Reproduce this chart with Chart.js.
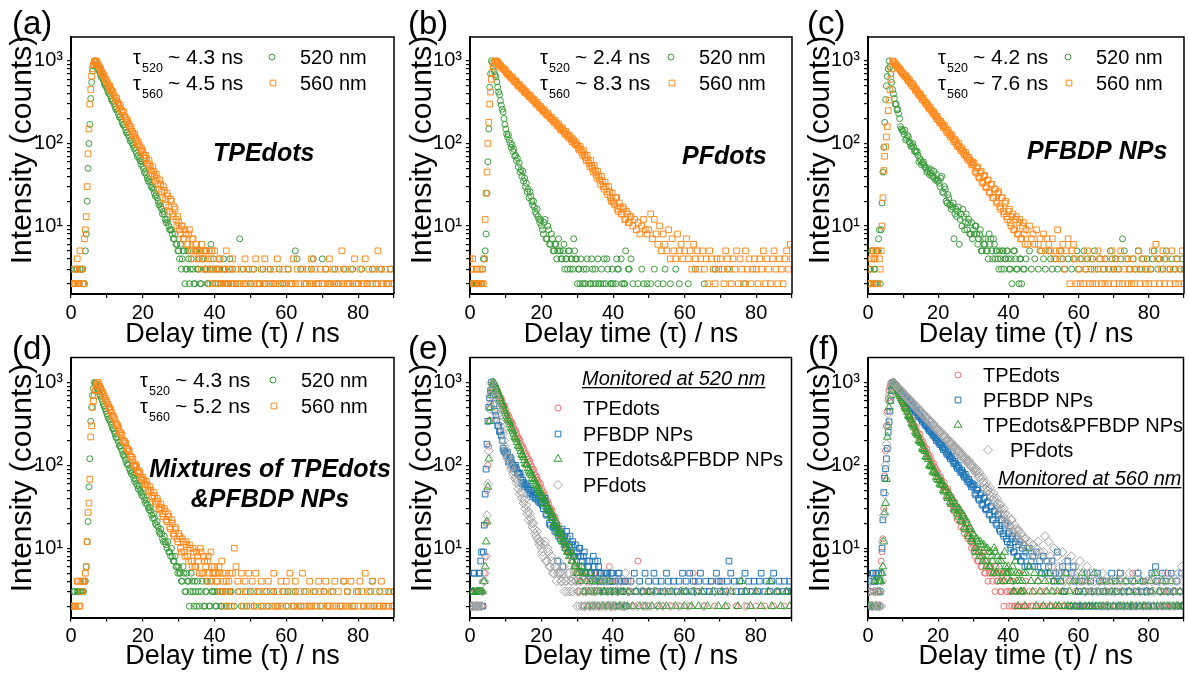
<!DOCTYPE html>
<html><head><meta charset="utf-8">
<script src="https://cdn.jsdelivr.net/npm/chart.js@4.4.1/dist/chart.umd.min.js"></script>
<style>
html,body{margin:0;padding:0;background:#fff;}
body{width:1189px;height:673px;position:relative;overflow:hidden;}
canvas{position:absolute;}
</style></head><body>
<canvas id="pa"></canvas><canvas id="pb"></canvas><canvas id="pc"></canvas>
<canvas id="pd"></canvas><canvas id="pe"></canvas><canvas id="pf"></canvas>
<script>
// ---------- data: counts per channel (0 = no counts) ----------
// main channels at t = 0, 0.5, ... 90 ns; half channels at t = 0.25, 0.75, ... 44.75 ns
const TIME_STEP_NS = 0.5;
const HALF_OFFSET_NS = 0.25;
const X_TICKS = [0,10,20,30,40,50,60,70,80,90];
const X_LABELLED = [0,20,40,60,80];
const Y_TICKS = [2,3,4,5,6,7,8,9,10,20,30,40,50,60,70,80,90,100,200,300,400,500,600,700,800,900,1000];
const Y_LABELS = {10:'10\u00b9',100:'10\u00b2',1000:'10\u00b3'};

// TPEdots, 520 nm
const tpe520 = [
0,0,3,3,0,3,3,2,5,20,100,350,750,1000,900,790,730,630,590,505,
470,405,380,325,305,260,245,208,197,168,158,134,127,107,102,87,82,69,66,56,
53,44,42,35,34,29,28,23,22,18,17,14,14,11,11,9,9,7,8,6,
5,6,4,5,3,5,2,4,3,2,5,3,2,4,0,3,2,0,6,2,
0,3,2,0,0,4,3,2,0,0,3,0,2,0,7,0,3,2,0,3,
2,0,3,0,0,2,0,3,2,0,0,3,0,2,0,0,3,0,2,0,
0,3,0,2,0,5,4,0,3,0,0,2,0,0,3,4,0,2,0,0,
4,0,3,0,2,0,0,3,0,2,0,0,3,0,0,2,0,3,0,0,
2,0,3,0,0,2,0,0,3,0,2,0,0,3,0,0,2,0,3,0,
0];
const tpe520Half = [
0,2,0,3,2,0,3,2,8,50,170,550,880,960,820,790,680,650,540,520,
430,400,345,330,280,265,225,212,180,170,146,138,118,112,96,90,76,72,62,60,
49,46,38,37,31,30,25,24,20,19,16,15,12,12,10,9,8,7,6,5,
4,3,5,2,3,4,3,0,2,5,3,4,2,0,3,5,2,3,0,4,
2,0,3,2,0,3,0,2,4,0];
// TPEdots, 560 nm
const tpe560 = [
0,2,2,3,2,5,3,2,9,30,150,450,800,980,1000,900,830,730,680,600,
560,490,460,400,380,330,310,270,255,220,210,180,172,148,140,122,116,99,96,82,
80,66,66,53,55,43,46,35,38,28,32,22,27,18,23,15,20,13,16,10,
11,8,10,7,8,6,9,5,7,5,6,4,5,6,4,5,3,5,4,3,
5,3,2,4,2,3,2,0,3,2,4,2,3,2,2,3,2,4,2,3,
2,3,2,4,2,2,3,2,4,2,3,2,2,3,2,4,2,2,3,2,
2,3,2,2,4,2,3,2,0,3,2,2,3,2,4,2,3,2,2,3,
2,2,3,2,4,2,3,2,2,3,2,5,2,3,2,2,3,2,4,2,
2,3,2,2,4,2,3,2,2,3,2,5,3,2,2,3,2,2,3,2,
2];
const tpe560Half = [
2,3,2,4,2,3,2,7,13,75,300,650,900,1000,960,870,800,720,650,590,
530,500,440,420,360,350,300,290,245,240,200,190,165,158,132,130,108,105,90,86,
72,72,58,62,48,52,40,42,32,36,26,30,21,25,17,21,14,17,12,13,
9,10,7,9,6,8,5,7,4,6,5,5,3,4,5,3,4,2,5,3,
2,3,4,2,3,2,5,2,3,2];
// PFdots, 520 nm
const pf520 = [
0,2,2,2,2,2,2,3,4,8,60,480,1000,850,680,560,420,330,260,200,
150,120,110,90,80,70,62,52,45,40,35,30,26,22,23,18,17,14,13,11,
10,8,12,7,9,6,7,5,6,5,5,4,5,3,4,5,3,4,7,4,
2,3,4,2,2,3,0,2,4,2,3,0,2,2,0,4,2,3,0,2,
2,0,4,3,0,2,2,5,0,3,4,2,0,0,2,0,3,2,0,2,
0,2,0,3,0,2,0,0,2,3,0,0,2,0,0,3,0,2,0,0,
0,0,2,0,0,0,3,0,0,0,0,2,0,0,0,0,0,3,0,0,
0,0,0,0,3,0,0,0,0,0,0,0,0,0,2,0,0,0,0,0,
0,0,0,0,0,0,0,0,0,0,0,0,0,0,0,0,0,0,0,0,
0];
const pf520Half = [
2,2,0,2,2,0,2,4,5,25,150,700,950,760,640,480,390,290,240,170,
130,128,100,96,85,72,66,58,48,46,38,33,28,26,20,20,15,16,12,12,
9,11,7,10,6,8,5,6,4,7,5,4,6,4,3,5,4,3,5,4,
3,2,0,3,2,4,0,2,3,0,2,4,0,3,2,0,4,0,2,3,
0,2,3,0,4,0,2,0,3,0];
// PFdots, 560 nm
const pf560 = [
4,3,2,2,3,2,2,3,4,25,100,300,600,850,1000,980,930,880,820,800,
740,690,670,620,610,560,550,500,490,455,445,410,400,370,365,335,330,300,295,270,
265,245,240,220,218,200,196,180,178,162,160,145,145,130,130,118,118,105,108,96,
95,84,85,72,73,62,63,52,54,45,47,38,40,32,35,28,30,24,26,20,
20,18,22,15,17,14,16,12,14,11,13,10,12,9,11,8,10,12,9,8,
9,14,7,12,8,6,10,5,8,6,5,9,4,7,5,4,8,5,6,4,
5,7,4,5,3,6,4,5,3,4,5,3,4,2,5,4,3,2,4,3,
4,3,2,5,4,3,2,4,3,5,2,4,3,2,5,3,4,2,3,4,
3,2,4,3,5,2,4,3,2,4,5,3,2,4,3,2,4,5,3,6,
4];
const pf560Half = [
3,4,2,3,2,3,2,2,12,45,180,420,720,930,1000,960,900,850,800,780,
720,700,640,640,580,575,520,520,470,470,420,425,385,385,350,345,315,315,285,280,
255,255,230,232,210,208,188,190,170,172,152,155,138,140,124,126,112,114,100,102,
88,92,78,82,68,72,58,62,50,54,42,46,36,40,30,34,26,30,22,25,
19,22,16,19,14,17,12,15,11,13];
// PFBDP NPs, 520 nm
const pfbdp520 = [
2,3,5,2,3,5,7,2,19,90,340,650,1000,700,450,350,300,260,200,150,
140,145,115,120,100,95,90,82,80,60,62,58,55,50,47,42,48,40,38,42,
36,30,40,25,28,19,22,18,17,7,16,15,6,14,16,9,14,11,8,11,
9,10,8,7,9,5,6,7,5,8,7,4,6,5,4,5,3,5,4,5,
4,3,2,5,4,3,2,4,0,3,4,0,5,3,0,4,0,3,5,0,
4,3,0,5,4,3,0,4,3,0,5,4,3,0,4,0,3,4,0,5,
3,4,0,5,3,4,0,3,4,5,0,3,4,0,3,4,0,3,5,4,
3,4,0,3,4,7,5,0,4,3,0,4,3,0,5,3,4,0,3,4,
0,3,4,5,0,3,4,0,3,4,5,0,3,4,0,3,4,0,3,4,
3];
const pfbdp520Half = [
3,2,5,3,2,5,9,9,45,180,500,800,850,550,400,300,255,230,160,145,
130,110,125,105,92,100,80,78,72,66,55,60,52,45,50,44,40,46,36,35,
33,38,26,30,20,24,18,16,19,14,13,17,12,10,13,11,9,12,8,7,
8,10,6,8,5,7,6,5,4,6,5,7,4,5,3,4,5,3,4,5,
3,4,0,5,3,0,4,2,3,0];
// PFBDP NPs, 560 nm
const pfbdp560 = [
2,2,4,5,4,2,5,3,10,47,91,160,335,600,1000,950,900,840,800,740,
700,650,630,570,550,500,490,440,430,385,380,340,330,300,290,262,255,230,225,200,
195,178,175,155,155,136,135,120,120,105,106,92,93,82,82,72,72,63,63,55,
56,46,50,40,44,34,40,30,36,26,32,22,28,20,25,17,22,15,19,13,
15,11,13,9,12,8,11,7,10,8,9,6,10,7,8,6,9,6,7,5,
8,5,7,6,5,7,4,5,9,5,4,6,3,5,7,2,5,6,4,2,
3,2,4,2,3,5,2,4,2,3,2,5,4,2,3,2,4,2,3,5,
2,4,3,2,5,2,3,4,2,3,2,4,2,3,5,2,3,4,2,3,
2,3,5,2,6,4,2,3,5,2,4,3,2,5,3,2,4,2,3,5,
2];
const pfbdp560Half = [
2,3,5,4,5,2,4,5,22,70,120,250,450,800,980,920,870,820,770,720,
680,660,600,600,530,530,470,460,410,400,360,355,315,310,275,275,245,240,215,212,
188,185,165,165,145,145,128,128,112,112,98,100,86,88,76,78,67,68,59,60,
58,44,52,38,46,33,41,29,36,25,32,22,28,19,26,16,22,14,20,12,
16,10,14,9,13,8,12,7,11,6];
// Mixture TPEdots & PFBDP NPs, 520 nm
const mix520 = [
0,0,3,0,3,3,3,3,4,12,55,340,700,1000,950,830,725,640,550,480,
420,365,335,285,260,220,205,172,160,135,125,105,102,86,84,70,68,57,56,47,
46,38,38,31,31,25,26,20,21,16,17,13,14,11,12,9,10,7,8,6,
6,5,4,5,3,4,2,5,3,4,2,3,0,4,2,3,4,2,4,3,
3,2,0,3,2,0,3,0,2,3,0,2,0,3,0,2,0,3,2,0,
3,0,2,0,3,0,2,0,0,3,2,0,0,3,0,2,0,0,3,0,
2,3,0,0,2,3,0,0,2,0,3,0,0,2,0,0,3,0,0,2,
0,3,0,2,0,0,3,0,0,0,2,0,4,0,3,0,0,2,0,0,
3,0,0,2,0,0,0,3,4,2,0,0,3,0,2,0,0,3,0,2,
3];
const mix520Half = [
0,3,0,3,0,3,3,4,6,21,120,500,850,980,880,780,690,590,520,450,
390,350,310,275,240,215,190,170,148,132,115,102,92,80,76,64,60,52,50,43,
42,35,34,29,28,23,23,19,18,15,15,12,12,10,9,8,8,7,6,5,
5,4,6,3,5,4,3,4,2,3,4,2,3,0,2,3,0,2,3,0,
2,3,0,2,3,0,2,0,3,0];
// Mixture TPEdots & PFBDP NPs, 560 nm
const mix560 = [
2,2,2,0,4,2,3,4,5,12,35,220,500,700,900,1000,900,800,720,645,
580,510,470,400,375,320,300,255,240,200,192,160,155,128,125,100,102,84,86,72,
72,60,64,50,55,42,47,36,40,30,34,26,30,22,26,18,22,15,18,13,
15,10,13,9,12,8,11,7,10,6,9,7,10,5,8,6,7,5,9,5,
6,4,5,3,7,4,5,3,4,3,5,10,6,4,3,5,2,4,3,5,
2,4,3,5,2,3,4,2,3,2,4,3,2,5,2,3,2,4,2,3,
4,2,5,3,2,4,2,3,2,5,2,3,2,4,2,3,2,2,4,3,
2,3,4,2,2,3,2,4,2,3,2,2,4,2,3,2,4,2,2,3,
2,4,3,2,5,2,3,2,4,2,3,2,2,4,2,3,2,2,3,2,
2];
const mix560Half = [
2,0,2,4,2,4,4,4,6,27,68,300,600,800,960,950,850,760,680,610,
545,490,440,390,355,310,285,245,230,195,185,155,148,125,118,98,96,82,80,68,
66,58,58,48,50,40,43,34,37,29,31,24,28,21,24,17,20,14,17,12,
14,9,12,8,11,7,10,6,9,6,8,5,9,5,7,4,8,4,6,5,
5,4,6,3,5,2,4,3,5,2];

// ---------- styling ----------
const FONT = "'Liberation Sans', Arial, Helvetica, sans-serif";
Chart.defaults.font.family = FONT;
const COL = {g520:'#3a9b3a', o560:'#ff8a1e', red:'#f07474', blue:'#2277b8', green:'#2f9e2f', gray:'#a3a3a3'};
const RAD = {circle:3, rect:4, triangle:4.5, rectRot:4.5};

function toPoints(main, half){
  const pts = [];
  main.forEach((c,i)=>{ if (c > 0) pts.push({x: i*TIME_STEP_NS, y: c}); });
  half.forEach((c,i)=>{ if (c > 0) pts.push({x: HALF_OFFSET_NS + i*TIME_STEP_NS, y: c}); });
  return pts;
}

function drawMarker(ctx, shape, x, y, color){
  const r = RAD[shape];
  ctx.save(); ctx.strokeStyle = color; ctx.lineWidth = 1; ctx.beginPath();
  if (shape === 'circle') ctx.arc(x, y, r, 0, Math.PI*2);
  else if (shape === 'rect') { const s = r*Math.SQRT1_2; ctx.rect(x-s, y-s, 2*s, 2*s); }
  else if (shape === 'triangle') { ctx.moveTo(x, y-r); ctx.lineTo(x+r*0.866, y+r*0.5); ctx.lineTo(x-r*0.866, y+r*0.5); ctx.closePath(); }
  else { ctx.moveTo(x, y-r); ctx.lineTo(x+r, y); ctx.lineTo(x, y+r); ctx.lineTo(x-r, y); ctx.closePath(); }
  ctx.stroke(); ctx.restore();
}

const decoPlugin = {
  id: 'deco',
  afterDraw(chart, args, o) {
    const p = o.panel; if (!p) return;
    const ctx = chart.ctx, a = chart.chartArea;
    ctx.save();
    ctx.strokeStyle = '#000'; ctx.lineWidth = 1.5;
    ctx.beginPath(); ctx.moveTo(a.left, a.top); ctx.lineTo(a.right, a.top); ctx.lineTo(a.right, a.bottom); ctx.stroke();
    ctx.translate(-p.cx, -p.cy);
    ctx.fillStyle = '#000';
    ctx.save();
    ctx.translate(p.cx + 23, p.yTitleY); ctx.rotate(-Math.PI/2);
    ctx.font = '30px ' + FONT; ctx.textAlign = 'center'; ctx.textBaseline = 'middle';
    ctx.fillText('Intensity (counts)', 0, 0);
    ctx.restore();
    ctx.font = '33px ' + FONT; ctx.textAlign = 'left'; ctx.textBaseline = 'middle';
    ctx.fillText(p.label, p.labelX, p.labelY);
    for (const it of p.items) {
      ctx.textAlign = it.align || 'left'; ctx.textBaseline = 'alphabetic'; ctx.fillStyle = '#000';
      if (it.k === 'tau') {
        ctx.font = '20px ' + FONT; ctx.fillText('\u03c4', it.x, it.y);
        ctx.font = '12.5px ' + FONT; ctx.fillText(it.sub, it.x + 9, it.y + 8);
        ctx.font = '21px ' + FONT; ctx.fillText(it.text, it.x + 35, it.y);
      } else if (it.k === 'text') {
        ctx.font = (it.f || '20px ') + FONT; ctx.fillText(it.text, it.x, it.y);
        if (it.under) {
          const w = ctx.measureText(it.text).width;
          ctx.fillRect(it.x, it.y + 2, w, 1.3);
        }
      } else if (it.k === 'm') {
        drawMarker(ctx, it.shape, it.x, it.y, COL[it.c]);
      }
    }
    ctx.restore();
  }
};

function tauLegend(tx, mx, b1, b2, t1, t2){
  return [
    {k:'tau', x:tx, y:b1, sub:'520', text:t1},
    {k:'tau', x:tx, y:b2, sub:'560', text:t2},
    {k:'m', shape:'circle', c:'g520', x:mx, y:b1-7},
    {k:'m', shape:'rect', c:'o560', x:mx+1, y:b2-7},
    {k:'text', x:mx+28, y:b1, text:'520 nm'},
    {k:'text', x:mx+28, y:b2, text:'560 nm'}
  ];
}
const BI = 'italic bold 25px ';

const TOP = {cy:0, ch:351, top:37, hx:57, ymin:1.5, ymax:1950, yTitleY:150, labelY:25};
const BOT = {cy:330, ch:343, top:27.5, hx:55.5, ymin:1.46, ymax:2000, yTitleY:478, labelY:350};

const PANELS = [
  Object.assign({id:'pa', cx:0, cw:399, wy:71, padR:5, label:'(a)', labelX:12,
    series:[{d:tpe520, h:tpe520Half, s:'circle', c:'g520'}, {d:tpe560, h:tpe560Half, s:'rect', c:'o560'}],
    items: tauLegend(133, 272, 64, 90, '~ 4.3 ns', '~ 4.5 ns').concat([{k:'text', f:BI, x:213, y:161, text:'TPEdots'}])}, TOP),
  Object.assign({id:'pb', cx:400, cw:397, wy:70, padR:5, label:'(b)', labelX:408,
    series:[{d:pf520, h:pf520Half, s:'circle', c:'g520'}, {d:pf560, h:pf560Half, s:'rect', c:'o560'}],
    items: tauLegend(540, 671, 64, 90, '~ 2.4 ns', '~ 8.3 ns').concat([{k:'text', f:BI, x:682, y:164, text:'PFdots'}])}, TOP),
  Object.assign({id:'pc', cx:798, cw:391, wy:70, padR:1, label:'(c)', labelX:807,
    series:[{d:pfbdp520, h:pfbdp520Half, s:'circle', c:'g520'}, {d:pfbdp560, h:pfbdp560Half, s:'rect', c:'o560'}],
    items: tauLegend(938, 1068, 64, 90, '~ 4.2 ns', '~ 7.6 ns').concat([{k:'text', f:BI, x:1027, y:159, text:'PFBDP NPs'}])}, TOP),
  Object.assign({id:'pd', cx:0, cw:399, wy:71, padR:5, label:'(d)', labelX:12,
    series:[{d:mix520, h:mix520Half, s:'circle', c:'g520'}, {d:mix560, h:mix560Half, s:'rect', c:'o560'}],
    items: tauLegend(140, 273, 387, 413, '~ 4.3 ns', '~ 5.2 ns').concat([
      {k:'text', f:BI, x:270, y:477, text:'Mixtures of TPEdots', align:'center'},
      {k:'text', f:BI, x:270, y:507, text:'&PFBDP NPs', align:'center'}])}, BOT),
  Object.assign({id:'pe', cx:400, cw:397, wy:70, padR:5, label:'(e)', labelX:408,
    series:[{d:tpe520, h:tpe520Half, s:'circle', c:'red'}, {d:pfbdp520, h:pfbdp520Half, s:'rect', c:'blue'},
            {d:mix520, h:mix520Half, s:'triangle', c:'green'}, {d:pf520, h:pf520Half, s:'rectRot', c:'gray'}],
    items: [
      {k:'text', f:'italic 20px ', x:582, y:385, text:'Monitored at 520 nm', under:true},
      {k:'m', shape:'circle', c:'red', x:558, y:408}, {k:'text', x:583, y:415, text:'TPEdots'},
      {k:'m', shape:'rect', c:'blue', x:558, y:434}, {k:'text', x:583, y:441, text:'PFBDP NPs'},
      {k:'m', shape:'triangle', c:'green', x:558, y:459}, {k:'text', x:583, y:466, text:'TPEdots&PFBDP NPs'},
      {k:'m', shape:'rectRot', c:'gray', x:558, y:485}, {k:'text', x:583, y:492, text:'PFdots'}]}, BOT),
  Object.assign({id:'pf', cx:798, cw:391, wy:70, padR:1, label:'(f)', labelX:808,
    series:[{d:tpe560, h:tpe560Half, s:'circle', c:'red'}, {d:pfbdp560, h:pfbdp560Half, s:'rect', c:'blue'},
            {d:mix560, h:mix560Half, s:'triangle', c:'green'}, {d:pf560, h:pf560Half, s:'rectRot', c:'gray'}],
    items: [
      {k:'m', shape:'circle', c:'red', x:958, y:375}, {k:'text', x:983, y:382, text:'TPEdots'},
      {k:'m', shape:'rect', c:'blue', x:958, y:400}, {k:'text', x:983, y:407, text:'PFBDP NPs'},
      {k:'m', shape:'triangle', c:'green', x:958, y:425}, {k:'text', x:983, y:432, text:'TPEdots&PFBDP NPs'},
      {k:'m', shape:'rectRot', c:'gray', x:988, y:450}, {k:'text', x:1010, y:457, text:'PFdots'},
      {k:'text', f:'italic 20px ', x:998, y:485, text:'Monitored at 560 nm', under:true}]}, BOT)
];

for (const p of PANELS) {
  const cv = document.getElementById(p.id);
  cv.width = p.cw; cv.height = p.ch;
  cv.style.left = p.cx + 'px'; cv.style.top = p.cy + 'px';
  cv.style.width = p.cw + 'px'; cv.style.height = p.ch + 'px';
  const n = p.series.length;
  new Chart(cv, {
    type: 'scatter',
    data: {
      datasets: p.series.map((s, i) => ({
        data: toPoints(s.d, s.h), showLine: false,
        pointStyle: s.s, pointRadius: RAD[s.s], pointHoverRadius: RAD[s.s],
        borderColor: COL[s.c], backgroundColor: 'rgba(255,255,255,0)',
        pointBorderWidth: 1, borderWidth: 1, order: n - 1 - i
      }))
    },
    options: {
      responsive: false, animation: false, devicePixelRatio: 1, events: [],
      layout: {padding: {left: 0, top: p.top, right: p.padR, bottom: 0}},
      plugins: {legend: {display: false}, tooltip: {enabled: false}, deco: {panel: p}},
      scales: {
        x: {
          type: 'linear', min: 0, max: 90,
          afterBuildTicks: ax => { ax.ticks = X_TICKS.map(v => ({value: v})); },
          afterFit: s => { s.height = p.hx; },
          ticks: {autoSkip: false, maxRotation: 0, padding: 3, color: '#000', font: {size: 20},
                  callback: v => X_LABELLED.includes(v) ? String(v) : ''},
          grid: {drawOnChartArea: false, drawTicks: true, tickLength: 4, color: '#000', lineWidth: 1.2},
          border: {display: true, color: '#000', width: 2},
          title: {display: true, text: 'Delay time (\u03c4) / ns', color: '#000', font: {size: 27}, padding: 0}
        },
        y: {
          type: 'logarithmic', min: p.ymin, max: p.ymax,
          afterBuildTicks: ax => { ax.ticks = Y_TICKS.map(v => ({value: v})); },
          afterFit: s => { s.width = p.wy; },
          ticks: {autoSkip: false, padding: 4, color: '#000', font: {size: 20},
                  callback: v => Y_LABELS[v] || ''},
          grid: {drawOnChartArea: false, drawTicks: true, tickLength: 4, color: '#000', lineWidth: 1.2},
          border: {display: true, color: '#000', width: 2}
        }
      }
    },
    plugins: [decoPlugin]
  });
}
</script>
</body></html>
